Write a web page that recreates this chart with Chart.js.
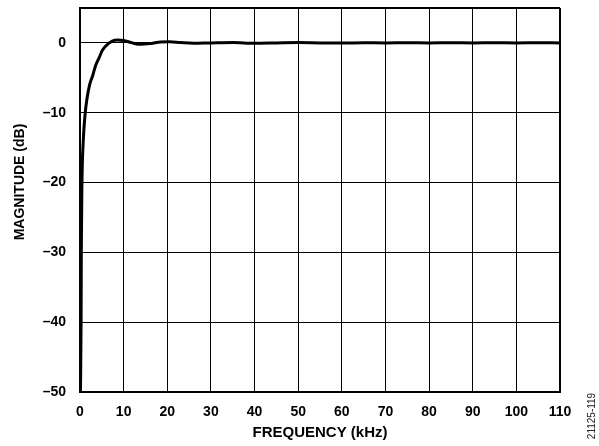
<!DOCTYPE html>
<html>
<head>
<meta charset="utf-8">
<script src="https://cdn.jsdelivr.net/npm/chart.js@4"></script>
<style>
  body { margin: 0; background: #fff; }
</style>
</head>
<body>
<canvas id="chart" width="599" height="446"></canvas>
<script>
// frequency response
const freqKHz = [0.1, 0.25, 0.3, 0.45, 0.75, 1.2, 1.6, 2.2, 2.9, 3.6, 4.4, 5.1, 5.9, 7.4, 8.6, 10, 12, 14, 16, 18, 20.5, 23, 26, 30, 35, 40, 45, 50, 55, 60, 65, 70, 75, 80, 85, 90, 95, 100, 105, 110];
const magnitudeDb = [-50, -40, -30, -20, -14, -10, -8, -6, -4.7, -3.2, -2.1, -1.1, -0.45, 0.26, 0.4, 0.35, 0.0, -0.2, -0.1, 0.1, 0.15, 0.05, -0.05, 0, 0.05, -0.05, 0, 0.05, 0, -0.03, 0.03, 0, 0.03, 0, 0.03, 0, 0.03, 0, 0.02, 0];
const xTicks = [0, 110, 10];   // min, max, step
const yTicks = [-50, 5, 10];
const yTitle = "MAGNITUDE (dB)";
const xTitle = "FREQUENCY (kHz)";
const figCode = "21125-119";

const FONT = "'Liberation Sans', Arial, sans-serif";

const extraText = {
  id: "extraText",
  afterDraw(chart) {
    const ctx = chart.ctx;
    ctx.save();
    ctx.fillStyle = "#000";
    ctx.textAlign = "center";
    ctx.textBaseline = "middle";
    ctx.translate(20.5, 182);
    ctx.rotate(-Math.PI / 2);
    ctx.font = "bold 14px " + FONT;
    ctx.fillText(yTitle, 0, 0);
    ctx.restore();

    ctx.save();
    ctx.fillStyle = "#222";
    ctx.textAlign = "center";
    ctx.textBaseline = "middle";
    ctx.translate(592, 416);
    ctx.rotate(-Math.PI / 2);
    ctx.font = "10px " + FONT;
    ctx.fillText(figCode, 0, 0);
    ctx.restore();
  }
};

new Chart(document.getElementById("chart"), {
  type: "line",
  data: {
    datasets: [{
      data: freqKHz.map((f, i) => ({ x: f, y: magnitudeDb[i] })),
      borderColor: "#000",
      borderWidth: 3,
      pointRadius: 0,
      cubicInterpolationMode: "monotone",
      fill: false
    }]
  },
  options: {
    responsive: false,
    animation: false,
    layout: { padding: { top: 8, right: 39, left: 0, bottom: 0 } },
    plugins: { legend: { display: false }, tooltip: { enabled: false } },
    scales: {
      x: {
        type: "linear",
        min: xTicks[0], max: xTicks[1],
        afterFit: s => { s.height = 54; },
        ticks: { stepSize: xTicks[2], padding: 12, color: "#000", font: { family: FONT, size: 14, weight: "bold" } },
        grid: { color: "#000", lineWidth: c => (c.tick && c.tick.value === xTicks[1]) ? 2 : 1, drawTicks: false },
        border: { color: "#000", width: 2 },
        title: { display: true, text: xTitle, color: "#000", padding: { top: 0, bottom: 4 }, font: { family: FONT, size: 15, weight: "bold" } }
      },
      y: {
        min: yTicks[0], max: yTicks[1],
        afterFit: s => { s.width = 80; s.paddingTop = 0; s.paddingBottom = 0; },
        ticks: {
          stepSize: yTicks[2], padding: 14, color: "#000",
          font: { family: FONT, size: 14, weight: "bold" },
          callback: v => v > 0 ? "" : (v === 0 ? "0" : "\u2013" + Math.abs(v))
        },
        grid: { color: "#000", lineWidth: c => (c.tick && c.tick.value === yTicks[1]) ? 2 : 1, drawTicks: false },
        border: { color: "#000", width: 2 }
      }
    }
  },
  plugins: [extraText]
});
</script>
</body>
</html>
